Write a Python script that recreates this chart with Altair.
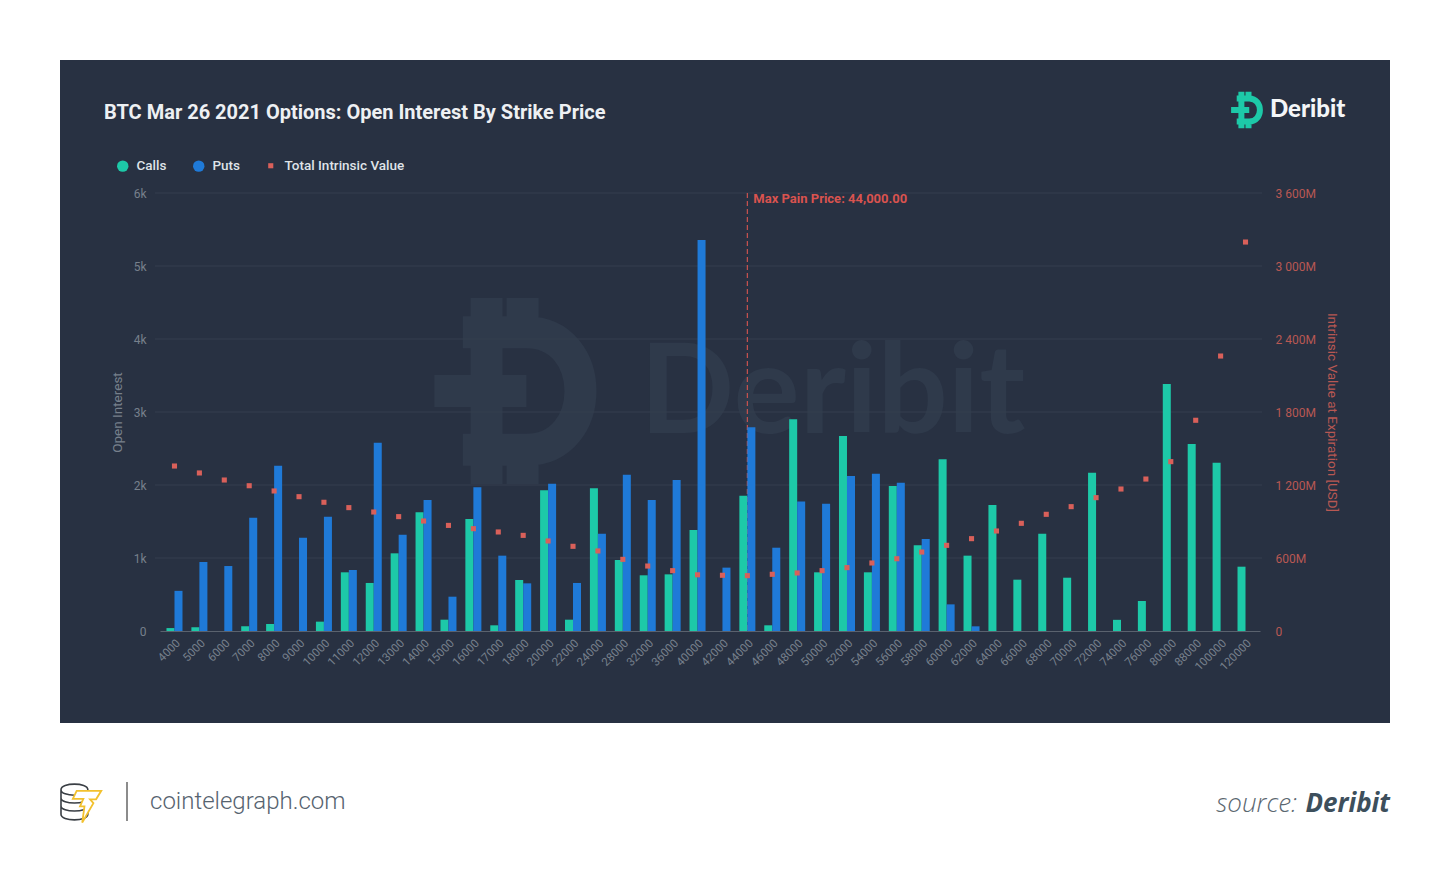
import altair as alt
import pandas as pd

# ---------------- data ----------------
strikes = ["4000", "5000", "6000", "7000", "8000", "9000", "10000", "11000", "12000",
           "13000", "14000", "15000", "16000", "17000", "18000", "20000", "22000",
           "24000", "28000", "32000", "36000", "40000", "42000", "44000", "46000",
           "48000", "50000", "52000", "54000", "56000", "58000", "60000", "62000",
           "64000", "66000", "68000", "70000", "72000", "74000", "76000", "80000",
           "88000", "100000", "120000"]

calls = [40, 50, 0, 65, 96, 0, 128, 804, 658, 1064, 1626, 155, 1534, 78, 699, 1927,
         155, 1954, 973, 763, 776, 1384, 0, 1854, 78, 2900, 804, 2671, 804, 1986, 1174,
         2352, 1032, 1726, 703, 1333, 730, 2169, 153, 411, 3384, 2562, 2306, 881]

puts = [550, 945, 890, 1550, 2265, 1278, 1566, 836, 2580, 1320, 1795, 470, 1968, 1032,
        653, 2018, 658, 1333, 2141, 1795, 2068, 5356, 868, 2790, 1141, 1775, 1744, 2123,
        2155, 2032, 1260, 365, 64, 0, 0, 0, 0, 0, 0, 0, 0, 0, 0, 0]

# total intrinsic value at expiration, millions of USD
intrinsic_musd = [1356, 1299, 1241, 1194, 1151, 1104, 1058, 1014, 978, 940, 904, 868,
                  841, 814, 786, 740, 696, 658, 589, 534, 496, 462, 458, 455, 466, 477,
                  496, 521, 559, 594, 649, 704, 759, 822, 885, 959, 1022, 1096, 1167,
                  1249, 1392, 1732, 2260, 3197]

oi_ticks = [0, 1000, 2000, 3000, 4000, 5000, 6000]
iv_ticks = [0, 600, 1200, 1800, 2400, 3000, 3600]
series_names = ["Calls", "Puts"]
iv_name = "Total Intrinsic Value"
max_pain_strike = "44000"
max_pain_label = "Max Pain Price: 44,000.00"
title_text = "BTC Mar 26 2021 Options: Open Interest By Strike Price"

# ---------------- style ----------------
W, H = 1100, 438
BG = "#283142"
TEAL = "#1dc9a8"
BLUE = "#1f7ad8"
RED = "#d9605a"
AXIS_GRAY = "#77808c"
RIGHT_RED = "#b85853"
FONT = "Roboto"

bars_df = pd.DataFrame({
    "strike": strikes * 2,
    "series": ["Calls"] * len(strikes) + ["Puts"] * len(strikes),
    "oi": calls + puts,
})
iv_df = pd.DataFrame({"strike": strikes, "iv": intrinsic_musd, "series": iv_name})
grid_df = pd.DataFrame({"v": oi_ticks[1:]})
mp_df = pd.DataFrame({"strike": [max_pain_strike], "label": [max_pain_label]})


def one(text):
    return pd.DataFrame({"t": [text]})


xenc = alt.X(
    "strike:N", sort=strikes,
    scale=alt.Scale(paddingInner=0.357, paddingOuter=0.26),
    axis=alt.Axis(title=None, labelAngle=-45, labelColor=AXIS_GRAY, labelFontSize=11.5,
                  labelFont=FONT, ticks=False, domainColor="#5a626e", labelPadding=6,
                  zindex=1),
)

# dark panel behind the chart
panel = alt.Chart(one("p")).mark_rect(color=BG).encode(
    x=alt.value(-100), x2=alt.value(1230), y=alt.value(-133), y2=alt.value(530))

logo_path = ("M-0.55,-0.62 L0.12,-0.62 C0.88,-0.62 0.88,0.62 0.12,0.62 L-0.55,0.62 "
             "M-0.3,-0.62 L-0.3,0.62 M-0.3,-0.98 L-0.3,-0.62 M0.08,-0.98 L0.08,-0.62 "
             "M-0.3,0.62 L-0.3,0.98 M0.08,0.62 L0.08,0.98 M-0.85,0 L0.12,0")

wm_logo = alt.Chart(one("w")).mark_point(
    shape=logo_path, filled=False, stroke="#2f3a4b", strokeWidth=32, size=36000,
    strokeCap="butt", opacity=1).encode(x=alt.value(355), y=alt.value(198))
wm_text = alt.Chart(one("Deribit")).mark_text(
    font="Lato", fontWeight="bold", fontSize=124, color="#2f3a4b", align="left",
    baseline="alphabetic").encode(x=alt.value(480), y=alt.value(240), text="t:N")

grid = alt.Chart(grid_df).mark_rule(color="#343e4f", strokeWidth=1).encode(
    y=alt.Y("v:Q", scale=alt.Scale(domain=[0, 6000], nice=False), axis=None),
    x=alt.value(-5), x2=alt.value(W + 2))

mp_rule = alt.Chart(mp_df).mark_rule(color="#c9524f", strokeDash=[5, 3], strokeWidth=1.2).encode(
    x=xenc, y=alt.value(0), y2=alt.value(H))

bars = alt.Chart(bars_df).mark_bar().encode(
    x=xenc,
    xOffset=alt.XOffset("series:N", sort=series_names, scale=alt.Scale(paddingInner=0)),
    y=alt.Y("oi:Q", scale=alt.Scale(domain=[0, 6000], nice=False),
            axis=alt.Axis(values=oi_ticks,
                          labelExpr="datum.value == 0 ? '0' : format(datum.value, '~s')",
                          title="Open Interest", grid=False,
                          orient="left", ticks=False, domain=False, labelColor=AXIS_GRAY,
                          labelFontSize=12, labelFont=FONT, labelPadding=14,
                          titleColor=AXIS_GRAY, titleFontSize=13.5, titleFont=FONT,
                          titleFontWeight="normal", titlePadding=9, zindex=1)),
    color=alt.Color("series:N",
                    scale=alt.Scale(domain=series_names, range=[TEAL, BLUE]),
                    legend=alt.Legend(orient="none", legendX=-44, legendY=-34,
                                      direction="horizontal", title=None,
                                      symbolType="circle", symbolSize=130,
                                      symbolStrokeWidth=0, labelColor="#dfe3e8",
                                      labelFontSize=13.5, labelFont=FONT,
                                      labelFontWeight=500, columnPadding=25,
                                      labelOffset=7, padding=0)),
)

points = alt.Chart(iv_df).mark_point(filled=True, size=26, opacity=1, strokeWidth=0).encode(
    x=xenc,
    y=alt.Y("iv:Q", scale=alt.Scale(domain=[0, 3600], nice=False),
            axis=alt.Axis(orient="right", values=iv_ticks, grid=False, ticks=False,
                          domain=False,
                          labelExpr="datum.value == 0 ? '0' : replace(format(datum.value, ','), ',', ' ') + 'M'",
                          labelColor=RIGHT_RED, labelFontSize=12, labelFont=FONT,
                          labelPadding=15, title="Intrinsic Value at Expiration [USD]",
                          titleColor=RIGHT_RED, titleFontSize=13.5, titleFont=FONT,
                          titleFontWeight="normal", titleAngle=90, titlePadding=9,
                          zindex=1)),
    shape=alt.Shape("series:N", scale=alt.Scale(domain=[iv_name], range=["square"]),
                    legend=alt.Legend(orient="none", legendX=104, legendY=-34,
                                      title=None, symbolFillColor=RED,
                                      symbolStrokeWidth=0, symbolSize=26,
                                      labelColor="#dfe3e8", labelFontSize=13.5,
                                      labelFont=FONT, labelFontWeight=500,
                                      labelOffset=7, padding=0)),
    fill=alt.value(RED),
)

mp_text = alt.Chart(mp_df).mark_text(
    align="left", dx=6, color="#d9534f", fontWeight="bold", fontSize=13, font=FONT,
    baseline="middle").encode(x=xenc, y=alt.value(6), text="label:N")

title_mark = alt.Chart(one(title_text)).mark_text(
    align="left", baseline="alphabetic", font=FONT, fontSize=20, fontWeight="bold",
    color="#eef0f3").encode(x=alt.value(-56), y=alt.value(-74), text="t:N")

logo_icon = alt.Chart(one("i")).mark_point(
    shape=logo_path, filled=False, stroke=TEAL, strokeWidth=6, size=1400,
    strokeCap="butt", opacity=1).encode(x=alt.value(1087), y=alt.value(-83))
logo_text = alt.Chart(one("Deribit")).mark_text(
    align="left", baseline="middle", font="Lato", fontWeight=900, fontSize=24,
    color="#f4f6f8").encode(x=alt.value(1110), y=alt.value(-83), text="t:N")

# footer (white area)
coins_path = ("M-0.85,-0.55 C-0.85,-0.88 0.35,-0.88 0.35,-0.55 C0.35,-0.22 -0.85,-0.22 -0.85,-0.55 Z "
              "M-0.85,-0.55 L-0.85,0.55 M0.35,-0.55 L0.35,0.55 "
              "M-0.85,-0.18 C-0.85,0.12 0.35,0.12 0.35,-0.18 "
              "M-0.85,0.18 C-0.85,0.48 0.35,0.48 0.35,0.18 "
              "M-0.85,0.55 C-0.85,0.88 0.35,0.88 0.35,0.55")
bolt_path = ("M-0.15,-0.5 L0.95,-0.5 L0.72,-0.12 L0.45,-0.12 L0.6,0.05 L0.1,0.92 "
             "L0.2,0.2 L0.0,0.2 L0.15,-0.14 L-0.32,-0.14 Z")
coins = alt.Chart(one("c")).mark_point(
    shape=coins_path, filled=False, stroke="#3a3f45", strokeWidth=1.6, size=2000,
    opacity=1).encode(x=alt.value(-80), y=alt.value(609))
bolt = alt.Chart(one("b")).mark_point(
    shape=bolt_path, filled=True, fill="white", stroke="#f2c12e", strokeWidth=1.8,
    size=2000, opacity=1).encode(x=alt.value(-80), y=alt.value(609))
sep = alt.Chart(one("s")).mark_rule(color="#8c8c8c", strokeWidth=2).encode(
    x=alt.value(-33), y=alt.value(589), y2=alt.value(628))
ct_text = alt.Chart(one("cointelegraph.com")).mark_text(
    align="left", baseline="alphabetic", font=FONT, fontWeight=300, fontSize=24,
    color="#56636f").encode(x=alt.value(-10), y=alt.value(616), text="t:N")
src1 = alt.Chart(one("source:")).mark_text(
    align="right", baseline="alphabetic", font="Open Sans", fontWeight=300,
    fontStyle="italic", fontSize=26, color="#5b6770").encode(
    x=alt.value(1137), y=alt.value(619), text="t:N")
src2 = alt.Chart(one("Deribit")).mark_text(
    align="right", baseline="alphabetic", font="Open Sans", fontWeight="bold",
    fontStyle="italic", fontSize=26, color="#3d4f5c").encode(
    x=alt.value(1230), y=alt.value(619), text="t:N")

chart = alt.layer(
    panel, wm_logo, wm_text, grid, mp_rule, bars, points, mp_text,
    title_mark, logo_icon, logo_text, coins, bolt, sep, ct_text, src1, src2,
).resolve_scale(
    y="independent", color="independent", shape="independent"
).properties(
    width=W, height=H,
    autosize=alt.AutoSizeParams(type="none"),
    padding={"left": 152, "top": 185, "right": 182, "bottom": 237},
    background="white",
).configure_view(stroke=None)

chart.save("out.html", embed_options={"renderer": "svg", "actions": False})
